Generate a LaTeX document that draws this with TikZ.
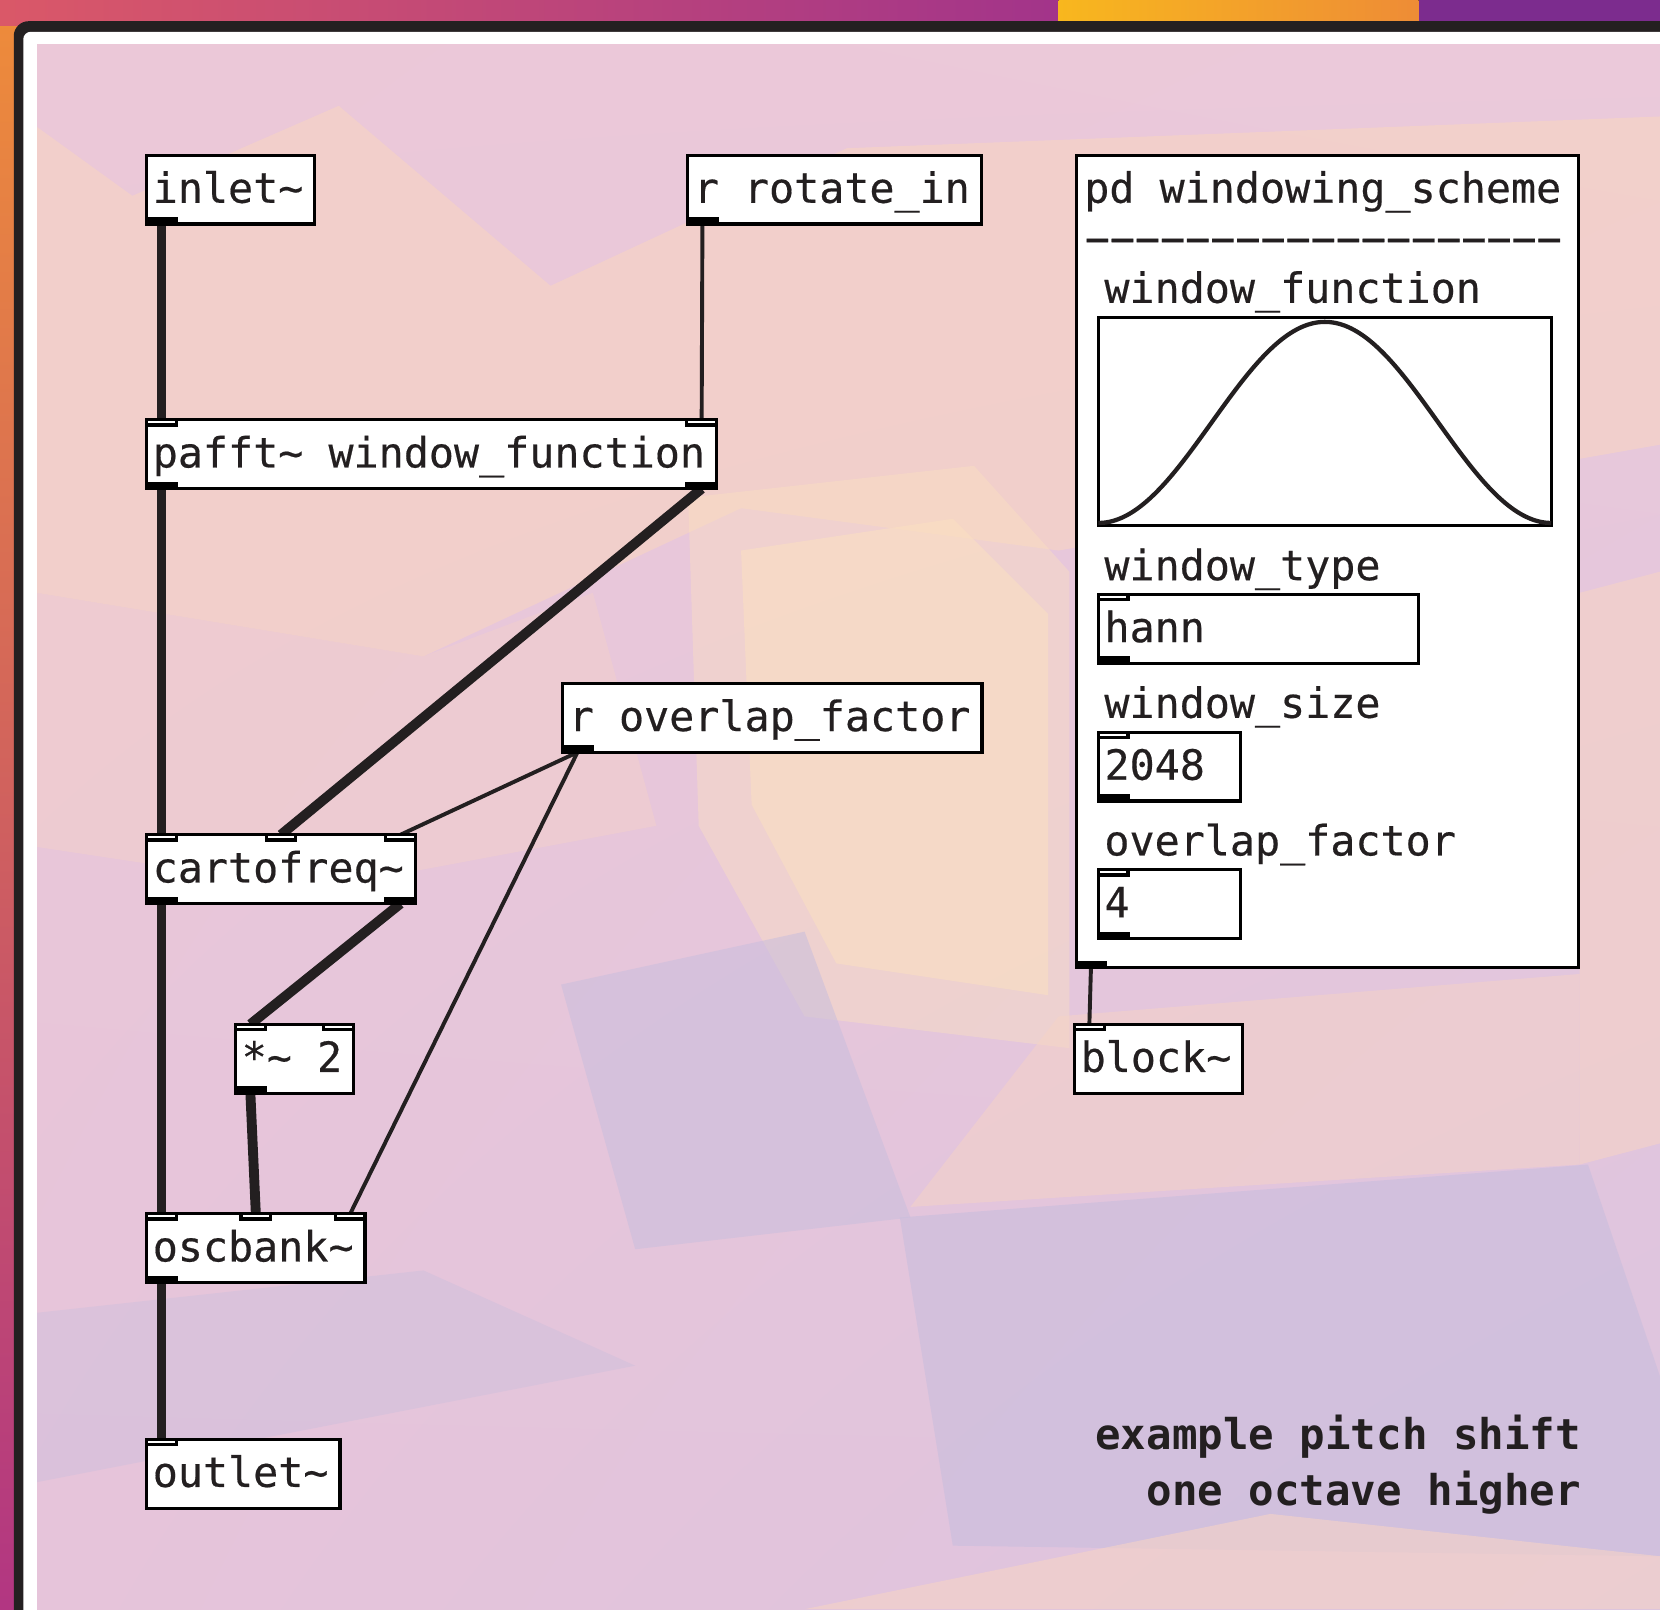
\documentclass[tikz,border=0pt]{standalone}
\usepackage{fontspec}
\setmonofont{DejaVu Sans Mono}[UprightFeatures={FakeBold=0.4}]
\usepackage{tikz}
\usetikzlibrary{calc,shadings}

\pgfdeclarelayer{bg}
\pgfdeclarelayer{wires}
\pgfsetlayers{bg,wires,main}

\definecolor{ink}{HTML}{231F20}
\definecolor{frame}{HTML}{242021}
\definecolor{deskA}{HTML}{EE8C3A}
\definecolor{deskB}{HTML}{D6506C}
\definecolor{deskC}{HTML}{B23682}
\definecolor{deskD}{HTML}{DA5868}
\definecolor{deskE}{HTML}{A2348A}
\definecolor{deskF}{HTML}{F8B71E}
\definecolor{deskG}{HTML}{EE8C36}
\definecolor{deskH}{HTML}{7C2C8E}
\definecolor{canvasUL}{HTML}{EBC8D8}
\definecolor{canvasUR}{HTML}{EBC9DA}
\definecolor{canvasLL}{HTML}{E6C4DA}
\definecolor{canvasLR}{HTML}{DCC4DF}
\definecolor{peach}{HTML}{F6D3C6}
\definecolor{apricot}{HTML}{FADFC2}
\definecolor{lilac}{HTML}{C9BEDD}

\newcommand{\pdtt}{\ttfamily\fontsize{11.2}{13.4}\selectfont}

\tikzset{
  pdobj/.style={draw=black, fill=white, line width=0.85pt, anchor=north west, outer sep=0pt,
    inner xsep=1.65pt, inner ysep=0pt, text height=12.8pt, text depth=5.7pt, text=ink, font=\pdtt,
    execute at end node={\hspace{1.42pt}}},
  pdatom/.style={pdobj, align=left, execute at end node={}},
  pdlabel/.style={anchor=base west, inner sep=0pt, text=ink, font=\pdtt},
  pdnote/.style={anchor=base east, inner sep=0pt, text=ink, font=\ttfamily\bfseries\fontsize{11.4}{13.6}\selectfont},
  sig/.style={draw=ink, line width=2.65pt},
  ctl/.style={draw=ink, line width=1.05pt},
  inbox/.style={draw=black, fill=white, line width=0.85pt},
  outbox/.style={fill=black},
  hannline/.style={draw=ink, line width=1.15pt},
}

\newcommand{\pdin}[3]{%
  \coordinate (#3) at ($(#1.north west)!#2!(#1.north east)+({14-28*#2},0)$);
  \draw[inbox] ($(#3)+(-14,0)$) rectangle ++(28,5);
}
\newcommand{\pdout}[3]{%
  \coordinate (#3) at ($(#1.south west)!#2!(#1.south east)+({14-28*#2},0)$);
  \fill[outbox] ($(#3)+(-15.5,1.5)$) rectangle ++(31,-8);
}

\begin{document}
\begin{tikzpicture}[x=0.01cm,y=-0.01cm]
\useasboundingbox (0,0) rectangle (1568,1520);

\begin{pgfonlayer}{bg}
\begin{scope}
\clip (0,0) rectangle (1568,1520);
\fill[top color=deskA, middle color=deskB, bottom color=deskC] (0,0) rectangle (1568,1520);
\fill[left color=deskD, right color=deskE] (0,0) rectangle (1000,24);
\fill[left color=deskF, right color=deskG] (1000,0) rectangle (1340,24);
\fill[deskH] (1340,0) rectangle (1568,24);
\fill[frame, rounded corners=4pt] (13,20) rectangle (1650,1600);
\fill[white, rounded corners=2pt] (22,30) rectangle (1650,1600);
\fill[upper left=canvasUL, upper right=canvasUR, lower left=canvasLL, lower right=canvasLR] (35,42) rectangle (1568,1520);
\fill[peach, fill opacity=0.7] (35,120) -- (125,185) -- (320,100) -- (520,270) -- (800,140) -- (1568,110) -- (1568,420) -- (1000,520) -- (700,480) -- (400,620) -- (35,560) -- cycle;
\fill[peach, fill opacity=0.4] (35,560) -- (400,620) -- (560,560) -- (620,780) -- (300,840) -- (35,800) -- cycle;
\fill[apricot, fill opacity=0.45] (650,470) -- (920,440) -- (1010,540) -- (1010,990) -- (760,960) -- (660,780) -- cycle;
\fill[apricot, fill opacity=0.6] (700,520) -- (900,490) -- (990,580) -- (990,940) -- (790,910) -- (710,760) -- cycle;
\fill[peach, fill opacity=0.6] (1492,560) -- (1568,540) -- (1568,1080) -- (1492,1100) -- cycle;
\fill[peach, fill opacity=0.5] (1000,960) -- (1492,920) -- (1492,1100) -- (860,1140) -- cycle;
\fill[lilac, fill opacity=0.55] (530,930) -- (760,880) -- (860,1150) -- (600,1180) -- cycle;
\fill[lilac, fill opacity=0.6] (850,1150) -- (1500,1100) -- (1568,1300) -- (1568,1470) -- (900,1460) -- cycle;
\fill[peach, fill opacity=0.6] (760,1520) -- (1200,1430) -- (1568,1470) -- (1568,1520) -- cycle;
\fill[lilac, fill opacity=0.4] (35,1240) -- (400,1200) -- (600,1290) -- (35,1400) -- cycle;
\end{scope}
\end{pgfonlayer}

\node[pdobj] (inlet) at (138.5,146.5) {inlet\textasciitilde};
\node[pdobj] (rotin) at (649.5,146.5) {r rotate\_in};
\node[pdobj] (pafft) at (138.5,396.5) {pafft\textasciitilde{} window\_function};
\node[pdobj] (ovlp) at (531.5,645.5) {r overlap\_factor};
\node[pdobj] (carto) at (138.5,788.5) {cartofreq\textasciitilde};
\node[pdobj] (mul) at (222.5,967.5) {*\textasciitilde{} 2};
\node[pdobj] (osc) at (138.5,1146.5) {oscbank\textasciitilde};
\node[pdobj] (outlet) at (138.5,1359.5) {outlet\textasciitilde};
\node[pdobj, minimum width=134.9pt, minimum height=218.2pt, execute at end node={}] (pdsub) at (1016.5,146.5) {};
\node[pdobj] (blk) at (1015,967.5) {block\textasciitilde};

\node[pdlabel] (subname) at (1023.5,191.5) {pd windowing\_scheme};
\node[pdlabel] (rule) at (1024,239.5) {−−−−−−−−−−−−−−−−−−−};
\node[pdlabel] (wflabel) at (1042.5,286) {window\_function};
\node[pdobj, minimum width=121.8pt, minimum height=56.05pt, inner sep=0pt, execute at end node={}] (wfgraph) at (1037.5,299.5) {};
\draw[hannline] plot[domain=0:1, samples=80, smooth] ({1037.5+428*\x},{494-190*(sin(180*\x))^2});
\node[pdlabel] (wtlabel) at (1042.5,548) {window\_type};
\node[pdatom, text width=82.6pt] (wtype) at (1037.5,561.5) {hann};
\node[pdlabel] (wslabel) at (1042.5,678) {window\_size};
\node[pdatom, text width=34.8pt] (wsize) at (1037.5,691.5) {2048};
\node[pdlabel] (oflabel) at (1042.5,808) {overlap\_factor};
\node[pdatom, text width=34.8pt] (ofac) at (1037.5,821.5) {4};

\node[pdnote] (note1) at (1494,1369) {example pitch shift};
\node[pdnote] (note2) at (1494,1422) {one octave higher};

\pdout{inlet}{0}{inlet-o0}
\pdout{rotin}{0}{rotin-o0}
\pdin{pafft}{0}{pafft-i0}
\pdin{pafft}{1}{pafft-i1}
\pdout{pafft}{0}{pafft-o0}
\pdout{pafft}{1}{pafft-o1}
\pdout{ovlp}{0}{ovlp-o0}
\pdin{carto}{0}{carto-i0}
\pdin{carto}{0.5}{carto-i1}
\pdin{carto}{1}{carto-i2}
\pdout{carto}{0}{carto-o0}
\pdout{carto}{1}{carto-o1}
\pdin{mul}{0}{mul-i0}
\pdin{mul}{1}{mul-i1}
\pdout{mul}{0}{mul-o0}
\pdin{osc}{0}{osc-i0}
\pdin{osc}{0.5}{osc-i1}
\pdin{osc}{1}{osc-i2}
\pdout{osc}{0}{osc-o0}
\pdin{outlet}{0}{outlet-i0}
\pdout{pdsub}{0}{pdsub-o0}
\pdin{blk}{0}{blk-i0}
\pdin{wtype}{0}{wtype-i0}
\pdout{wtype}{0}{wtype-o0}
\pdin{wsize}{0}{wsize-i0}
\pdout{wsize}{0}{wsize-o0}
\pdin{ofac}{0}{ofac-i0}
\pdout{ofac}{0}{ofac-o0}

\begin{pgfonlayer}{wires}
\draw[sig] (inlet-o0) -- (pafft-i0);
\draw[ctl] (rotin-o0) -- (pafft-i1);
\draw[sig] (pafft-o0) -- (carto-i0);
\draw[sig] (pafft-o1) -- (carto-i1);
\draw[ctl] (ovlp-o0) -- (carto-i2);
\draw[ctl] (ovlp-o0) -- (osc-i2);
\draw[sig] (carto-o0) -- (osc-i0);
\draw[sig] (carto-o1) -- (mul-i0);
\draw[sig] (mul-o0) -- (osc-i1);
\draw[sig] (osc-o0) -- (outlet-i0);
\draw[ctl] (pdsub-o0) -- (blk-i0);
\end{pgfonlayer}
\end{tikzpicture}
\end{document}
